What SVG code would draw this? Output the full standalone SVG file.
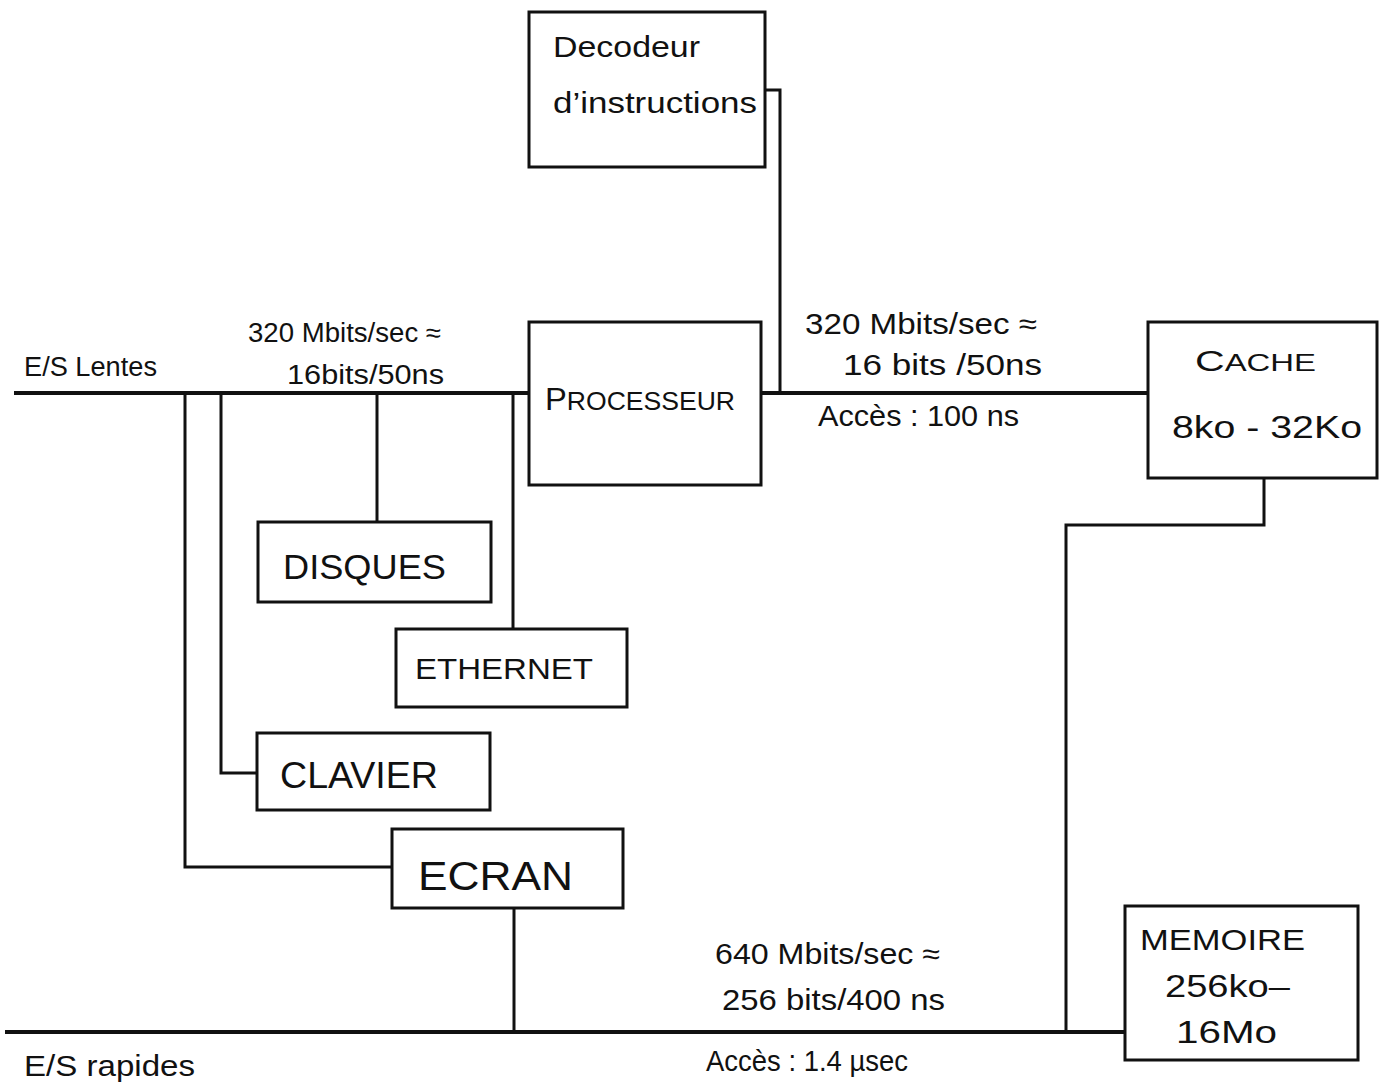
<svg xmlns="http://www.w3.org/2000/svg" width="1383" height="1085" viewBox="0 0 1383 1085">
<style>
.box{fill:none;stroke:#111;stroke-width:3}
.ln{fill:none;stroke:#111;stroke-width:3}
.bus{fill:none;stroke:#111;stroke-width:4}
text{font-family:"Liberation Sans",Arial,sans-serif;fill:#111}
.t24{font-size:27px}
.t26{font-size:29px}
</style>
<rect width="1383" height="1085" fill="#fff"/>
<g id="connectors">
<path class="bus" d="M14 393H529"/>
<path class="bus" d="M761 393H1148"/>
<path class="bus" d="M5 1032H1125"/>
<path class="ln" d="M765 90H780V393"/>
<path class="ln" d="M185 393V867H392"/>
<path class="ln" d="M221 393V773H257"/>
<path class="ln" d="M377 393V522"/>
<path class="ln" d="M513 393V629"/>
<path class="ln" d="M514 908V1032"/>
<path class="ln" d="M1264 478V525H1066V1032"/>
</g>
<g id="decodeur">
<rect class="box" x="529" y="12" width="236" height="155"/>
<text x="553" y="57" font-size="30" textLength="147" lengthAdjust="spacingAndGlyphs">Decodeur</text>
<text x="553" y="113" font-size="30" textLength="204" lengthAdjust="spacingAndGlyphs">d’instructions</text>
</g>
<g id="processeur">
<rect class="box" x="529" y="322" width="232" height="163"/>
<text x="545" y="410" font-size="32" textLength="190" lengthAdjust="spacingAndGlyphs">P<tspan font-size="26">ROCESSEUR</tspan></text>
</g>
<g id="cache">
<rect class="box" x="1148" y="322" width="229" height="156"/>
<text x="1195" y="371" font-size="30" textLength="121" lengthAdjust="spacingAndGlyphs">C<tspan font-size="24">ACHE</tspan></text>
<text x="1172" y="438" font-size="32" textLength="190" lengthAdjust="spacingAndGlyphs">8ko - 32Ko</text>
</g>
<g id="disques">
<rect class="box" x="258" y="522" width="233" height="80"/>
<text x="283" y="579" font-size="35" textLength="163" lengthAdjust="spacingAndGlyphs">DISQUES</text>
</g>
<g id="ethernet">
<rect class="box" x="396" y="629" width="231" height="78"/>
<text x="415" y="679" font-size="30" textLength="178" lengthAdjust="spacingAndGlyphs">ETHERNET</text>
</g>
<g id="clavier">
<rect class="box" x="257" y="733" width="233" height="77"/>
<text x="280" y="788" font-size="36" textLength="158" lengthAdjust="spacingAndGlyphs">CLAVIER</text>
</g>
<g id="ecran">
<rect class="box" x="392" y="829" width="231" height="79"/>
<text x="418" y="890" font-size="40" textLength="155" lengthAdjust="spacingAndGlyphs">ECRAN</text>
</g>
<g id="memoire">
<rect class="box" x="1125" y="906" width="233" height="154"/>
<text x="1140" y="950" font-size="29" textLength="165" lengthAdjust="spacingAndGlyphs">MEMOIRE</text>
<text x="1165" y="997" font-size="31" textLength="125" lengthAdjust="spacingAndGlyphs">256ko–</text>
<text x="1176" y="1043" font-size="31" textLength="101" lengthAdjust="spacingAndGlyphs">16Mo</text>
</g>
<g id="labels">
<text x="24" y="376" class="t24" textLength="133" lengthAdjust="spacingAndGlyphs">E/S Lentes</text>
<text x="248" y="342" class="t24" textLength="193" lengthAdjust="spacingAndGlyphs">320 Mbits/sec ≈</text>
<text x="287" y="384" class="t24" textLength="157" lengthAdjust="spacingAndGlyphs">16bits/50ns</text>
<text x="805" y="334" class="t26" textLength="232" lengthAdjust="spacingAndGlyphs">320 Mbits/sec ≈</text>
<text x="843" y="375" class="t26" textLength="199" lengthAdjust="spacingAndGlyphs">16 bits /50ns</text>
<text x="818" y="426" class="t26" textLength="201" lengthAdjust="spacingAndGlyphs">Accès : 100 ns</text>
<text x="715" y="964" class="t26" textLength="225" lengthAdjust="spacingAndGlyphs">640 Mbits/sec ≈</text>
<text x="722" y="1010" class="t26" textLength="223" lengthAdjust="spacingAndGlyphs">256 bits/400 ns</text>
<text x="706" y="1071" class="t26" textLength="202" lengthAdjust="spacingAndGlyphs">Accès : 1.4 µsec</text>
<text x="24" y="1076" class="t26" textLength="171" lengthAdjust="spacingAndGlyphs">E/S rapides</text>
</g>
</svg>
